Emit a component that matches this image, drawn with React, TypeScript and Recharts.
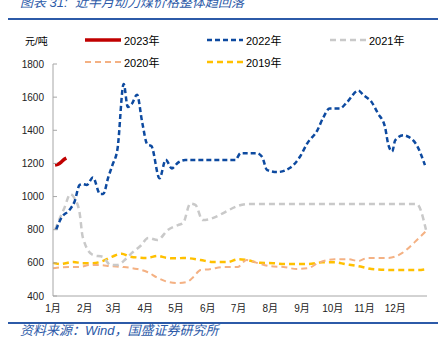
import React from "react";
import { LineChart, Line, XAxis, YAxis } from "recharts";

const FONT = '"Liberation Sans", Arial, "Noto Sans CJK SC", sans-serif';
const BLUE_TEXT = "#2C5AA8";

// x axis: day of year, labels at the first of each month
const monthTicks = [0, 31, 59, 90, 120, 151, 181, 212, 243, 273, 304, 334];
const monthLabels = ["1月", "2月", "3月", "4月", "5月", "6月", "7月", "8月", "9月", "10月", "11月", "12月"];
const yTicks = [400, 600, 800, 1000, 1200, 1400, 1600, 1800];

const days2023 = [2, 5, 8, 11, 13];
const vals2023 = [1190, 1195, 1208, 1225, 1232];

const days2022 = [3, 8, 16, 21, 26, 29, 33, 39, 46, 49, 54, 58, 63, 69, 73, 77, 82, 87, 92, 96, 104, 110, 116, 122, 129, 178, 183, 199, 204, 209, 219, 231, 241, 248, 258, 264, 270, 280, 287, 298, 303, 311, 317, 324, 327, 331, 334, 342, 347, 355, 363];
const vals2022 = [800, 870, 919, 969, 1070, 1075, 1070, 1115, 1015, 1015, 1118, 1190, 1290, 1680, 1540, 1560, 1615, 1450, 1315, 1305, 1110, 1222, 1170, 1205, 1220, 1220, 1262, 1262, 1240, 1160, 1148, 1172, 1240, 1320, 1400, 1480, 1532, 1532, 1570, 1640, 1612, 1570, 1503, 1420, 1320, 1272, 1340, 1370, 1360, 1310, 1190];

const days2021 = [2, 6, 11, 17, 21, 26, 29, 39, 49, 56, 63, 70, 77, 85, 93, 102, 112, 122, 127, 134, 139, 146, 190, 355, 364];
const vals2021 = [800, 860, 930, 1015, 990, 900, 756, 647, 635, 587, 587, 617, 660, 700, 750, 738, 798, 828, 840, 958, 950, 858, 955, 955, 800];

const days2020 = [0, 17, 26, 36, 46, 56, 68, 82, 92, 102, 111, 122, 131, 137, 144, 153, 166, 180, 189, 199, 212, 225, 238, 249, 259, 275, 288, 298, 307, 327, 341, 353, 365];
const vals2020 = [568, 575, 575, 587, 587, 580, 575, 563, 545, 510, 487, 478, 485, 515, 557, 562, 575, 575, 617, 600, 580, 575, 563, 568, 600, 622, 622, 611, 630, 630, 660, 725, 798];

const days2019 = [0, 7, 20, 29, 39, 49, 58, 67, 75, 92, 102, 111, 122, 127, 144, 156, 170, 181, 189, 202, 215, 226, 239, 249, 263, 275, 285, 302, 311, 334, 356, 365];
const vals2019 = [600, 593, 605, 598, 598, 612, 638, 655, 638, 630, 642, 630, 627, 630, 617, 605, 605, 622, 617, 600, 598, 593, 593, 593, 603, 603, 593, 575, 563, 557, 557, 563];

const toData = (days: number[], vals: number[]) => days.map((day, i) => ({ day, v: vals[i] }));

const series = [
  { name: "2023年", data: toData(days2023, vals2023), color: "#C00000", width: 3.5, dash: undefined },
  { name: "2022年", data: toData(days2022, vals2022), color: "#0D4AA0", width: 2.5, dash: "5 3" },
  { name: "2021年", data: toData(days2021, vals2021), color: "#C9C9C9", width: 2.5, dash: "6 4" },
  { name: "2020年", data: toData(days2020, vals2020), color: "#F4B183", width: 2, dash: "6 4" },
  { name: "2019年", data: toData(days2019, vals2019), color: "#FFC000", width: 2.5, dash: "6 4" },
];

// legend slots as in the original (two rows, three columns)
const legendPos = [
  { left: 85, top: 40 },
  { left: 207, top: 40 },
  { left: 330, top: 40 },
  { left: 85, top: 62 },
  { left: 207, top: 62 },
];

function LegendItem({ s, left, top }: any) {
  return (
    <div style={{ position: "absolute", left, top: top - 7, height: 14, display: "flex", alignItems: "center" }}>
      <svg width={36} height={6}>
        <line x1={0} y1={3} x2={36} y2={3} stroke={s.color} strokeWidth={s.width} strokeDasharray={s.dash} />
      </svg>
      <span style={{ marginLeft: 3, fontSize: 11, color: "#000" }}>{s.name}</span>
    </div>
  );
}

export default function App() {
  return (
    <div
      style={{
        position: "absolute",
        left: 0,
        top: 0,
        width: 445,
        height: 355,
        background: "#fff",
        overflow: "hidden",
        fontFamily: FONT,
      }}
    >
      <div
        style={{
          position: "absolute",
          left: 20,
          top: -4,
          fontSize: 13,
          lineHeight: "13px",
          fontStyle: "italic",
          color: BLUE_TEXT,
          whiteSpace: "pre",
        }}
      >
        图表 31:  近半月动力煤价格整体趋回落
      </div>
      <div style={{ position: "absolute", left: 8, top: 18, width: 430, height: 1.5, background: BLUE_TEXT }} />

      <div style={{ position: "absolute", left: 0, top: 0 }}>
        <LineChart width={445} height={355} margin={{ top: 64, right: 18, left: 0, bottom: 39 }}>
          <XAxis
            dataKey="day"
            type="number"
            domain={[0, 365]}
            ticks={monthTicks}
            tickFormatter={(d: number) => monthLabels[monthTicks.indexOf(d)]}
            interval={0}
            height={20}
            axisLine={{ stroke: "#A6A6A6" }}
            tickLine={false}
            tickSize={6}
            tickMargin={3}
            tick={{ fontSize: 10, fill: "#222" }}
            allowDuplicatedCategory={false}
          />
          <YAxis
            domain={[400, 1800]}
            ticks={yTicks}
            interval={0}
            width={53}
            axisLine={{ stroke: "#A6A6A6" }}
            tickLine={{ stroke: "#A6A6A6" }}
            tickSize={-4}
            tickMargin={13}
            tick={{ fontSize: 10, fill: "#222" }}
          />
          {series
            .slice()
            .reverse()
            .map((s) => (
              <Line
                key={s.name}
                data={s.data}
                dataKey="v"
                type="monotone"
                stroke={s.color}
                strokeWidth={s.width}
                strokeDasharray={s.dash}
                dot={false}
                activeDot={false}
                isAnimationActive={false}
              />
            ))}
        </LineChart>
      </div>

      <div style={{ position: "absolute", left: 25, top: 33, fontSize: 10, color: "#000" }}>元/吨</div>
      {series.map((s, i) => (
        <LegendItem key={s.name} s={s} left={legendPos[i].left} top={legendPos[i].top} />
      ))}

      <div style={{ position: "absolute", left: 8, top: 322, width: 430, height: 2, background: BLUE_TEXT }} />
      <div
        style={{
          position: "absolute",
          left: 20,
          top: 324,
          fontSize: 13,
          lineHeight: "14px",
          fontStyle: "italic",
          color: BLUE_TEXT,
          whiteSpace: "pre",
        }}
      >
        资料来源：Wind，国盛证券研究所
      </div>
    </div>
  );
}
